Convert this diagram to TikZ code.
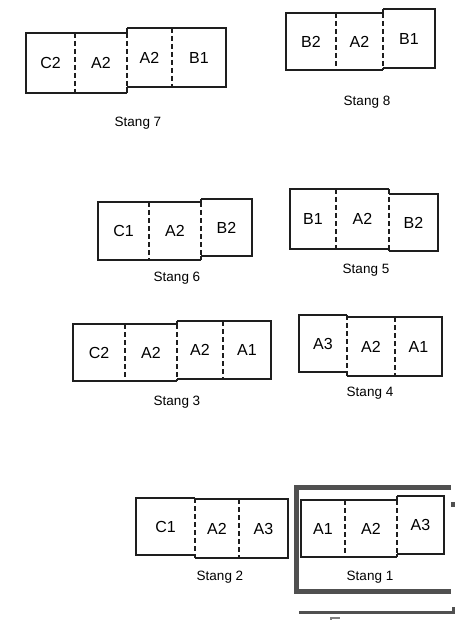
\documentclass[tikz,border=0pt]{standalone}
\usepackage{fontspec}
\setmainfont{Liberation Sans}
\usetikzlibrary{positioning}
\definecolor{stangLine}{HTML}{1E1E1E}
\definecolor{frameGray}{HTML}{505050}

\begin{document}
\begin{tikzpicture}[x=1pt, y=-1pt,
        cell/.style={inner sep=0pt, outer sep=0pt, font=\fontsize{16}{18}\selectfont},
        outline/.style={draw=stangLine, line width=1.1pt},
        divider/.style={draw=stangLine, line width=1.1pt, dash pattern=on 5pt off 3pt},
        caption/.style={font=\fontsize{13.5}{16}\selectfont},
        frame/.style={draw=frameGray, line width=5pt}
    ]
        \useasboundingbox (0,0) rectangle (462,620);

        % Stang 7
        \node[cell, anchor=north west, minimum width=49pt, minimum height=60pt] (s7c2) at (26,33) {C2};
        \node[cell, minimum width=52pt, minimum height=60pt, right=0pt of s7c2] (s7a2) {A2};
        \node[cell, anchor=north west, minimum width=45pt, minimum height=59pt] (s7a2r) at (127,28) {A2};
        \node[cell, minimum width=54pt, minimum height=59pt, right=0pt of s7a2r] (s7b1) {B1};
        \node[caption] (s7) at (138,123) {Stang 7};
        \draw[outline] (s7a2.north east) -| (s7c2.south west) -- (s7a2.south east);
        \draw[outline] (s7a2r.north west) -| (s7b1.south east) -- (s7a2r.south west);
        \draw[outline] (s7a2r.north west) -- (s7a2.north east) (s7a2.south east) -- (s7a2r.south west);
        \draw[divider] (s7c2.north east) -- (s7c2.south east) (s7a2.north east) -- (s7a2.south east) (s7a2r.north east) -- (s7a2r.south east);

        % Stang 8
        \node[cell, anchor=north west, minimum width=50pt, minimum height=57pt] (s8b2) at (286,13) {B2};
        \node[cell, minimum width=47pt, minimum height=57pt, right=0pt of s8b2] (s8a2) {A2};
        \node[cell, anchor=north west, minimum width=52pt, minimum height=59pt] (s8b1) at (383,9) {B1};
        \node[caption] (s8) at (367,102) {Stang 8};
        \draw[outline] (s8a2.north east) -| (s8b2.south west) -- (s8a2.south east);
        \draw[outline] (s8b1.north west) -| (s8b1.south east) -- (s8b1.south west);
        \draw[outline] (s8b1.north west) -- (s8a2.north east) (s8a2.south east) -- (s8b1.south west);
        \draw[divider] (s8b2.north east) -- (s8b2.south east) (s8a2.north east) -- (s8a2.south east);

        % Stang 6
        \node[cell, anchor=north west, minimum width=51pt, minimum height=58pt] (s6c1) at (98,202) {C1};
        \node[cell, minimum width=52pt, minimum height=58pt, right=0pt of s6c1] (s6a2) {A2};
        \node[cell, anchor=north west, minimum width=51pt, minimum height=57pt] (s6b2) at (201,199) {B2};
        \node[caption] (s6) at (177,278) {Stang 6};
        \draw[outline] (s6a2.north east) -| (s6c1.south west) -- (s6a2.south east);
        \draw[outline] (s6b2.north west) -| (s6b2.south east) -- (s6b2.south west);
        \draw[outline] (s6b2.north west) -- (s6a2.north east) (s6a2.south east) -- (s6b2.south west);
        \draw[divider] (s6c1.north east) -- (s6c1.south east) (s6a2.north east) -- (s6a2.south east);

        % Stang 5
        \node[cell, anchor=north west, minimum width=46pt, minimum height=60pt] (s5b1) at (290,189) {B1};
        \node[cell, minimum width=53pt, minimum height=60pt, right=0pt of s5b1] (s5a2) {A2};
        \node[cell, anchor=north west, minimum width=49pt, minimum height=57pt] (s5b2) at (389,194) {B2};
        \node[caption] (s5) at (366,270) {Stang 5};
        \draw[outline] (s5a2.north east) -| (s5b1.south west) -- (s5a2.south east);
        \draw[outline] (s5b2.north west) -| (s5b2.south east) -- (s5b2.south west);
        \draw[outline] (s5b2.north west) -- (s5a2.north east) (s5a2.south east) -- (s5b2.south west);
        \draw[divider] (s5b1.north east) -- (s5b1.south east) (s5a2.north east) -- (s5a2.south east);

        % Stang 3
        \node[cell, anchor=north west, minimum width=52pt, minimum height=57pt] (s3c2) at (73,324) {C2};
        \node[cell, minimum width=52pt, minimum height=57pt, right=0pt of s3c2] (s3a2) {A2};
        \node[cell, anchor=north west, minimum width=46pt, minimum height=58pt] (s3a2r) at (177,321) {A2};
        \node[cell, minimum width=48pt, minimum height=58pt, right=0pt of s3a2r] (s3a1) {A1};
        \node[caption] (s3) at (177,402) {Stang 3};
        \draw[outline] (s3a2.north east) -| (s3c2.south west) -- (s3a2.south east);
        \draw[outline] (s3a2r.north west) -| (s3a1.south east) -- (s3a2r.south west);
        \draw[outline] (s3a2r.north west) -- (s3a2.north east) (s3a2.south east) -- (s3a2r.south west);
        \draw[divider] (s3c2.north east) -- (s3c2.south east) (s3a2.north east) -- (s3a2.south east) (s3a2r.north east) -- (s3a2r.south east);

        % Stang 4
        \node[cell, anchor=north west, minimum width=48pt, minimum height=57pt] (s4a3) at (299,315) {A3};
        \node[cell, anchor=north west, minimum width=48pt, minimum height=59pt] (s4a2) at (347,317) {A2};
        \node[cell, minimum width=47pt, minimum height=59pt, right=0pt of s4a2] (s4a1) {A1};
        \node[caption] (s4) at (370,393) {Stang 4};
        \draw[outline] (s4a3.north east) -| (s4a3.south west) -- (s4a3.south east);
        \draw[outline] (s4a2.north west) -| (s4a1.south east) -- (s4a2.south west);
        \draw[outline] (s4a2.north west) -- (s4a3.north east) (s4a3.south east) -- (s4a2.south west);
        \draw[divider] (s4a3.north east) -- (s4a3.south east) (s4a2.north east) -- (s4a2.south east);

        % Stang 2
        \node[cell, anchor=north west, minimum width=59pt, minimum height=57pt] (s2c1) at (136,498) {C1};
        \node[cell, anchor=north west, minimum width=44pt, minimum height=59pt] (s2a2) at (195,499) {A2};
        \node[cell, minimum width=49pt, minimum height=59pt, right=0pt of s2a2] (s2a3) {A3};
        \node[caption] (s2) at (220,577) {Stang 2};
        \draw[outline] (s2c1.north east) -| (s2c1.south west) -- (s2c1.south east);
        \draw[outline] (s2a2.north west) -| (s2a3.south east) -- (s2a2.south west);
        \draw[outline] (s2a2.north west) -- (s2c1.north east) (s2c1.south east) -- (s2a2.south west);
        \draw[divider] (s2c1.north east) -- (s2c1.south east) (s2a2.north east) -- (s2a2.south east);

        % Stang 1
        \node[cell, anchor=north west, minimum width=44pt, minimum height=57pt] (s1a1) at (301,500) {A1};
        \node[cell, minimum width=52pt, minimum height=57pt, right=0pt of s1a1] (s1a2) {A2};
        \node[cell, anchor=north west, minimum width=47pt, minimum height=58pt] (s1a3) at (397,496) {A3};
        \node[caption] (s1) at (370,577) {Stang 1};
        \draw[outline] (s1a2.north east) -| (s1a1.south west) -- (s1a2.south east);
        \draw[outline] (s1a3.north west) -| (s1a3.south east) -- (s1a3.south west);
        \draw[outline] (s1a3.north west) -- (s1a2.north east) (s1a2.south east) -- (s1a3.south west);
        \draw[divider] (s1a1.north east) -- (s1a1.south east) (s1a2.north east) -- (s1a2.south east);

        % frame round Stang 1
        \draw[frame] (451,487) -- (296.5,487) -- (296.5,591.5) -- (451,591.5);
        \fill[frameGray] (451,502) rectangle (455,507);
        \draw[frameGray, line width=3pt] (299,612.5) -- (453.5,612.5) -- (453.5,607);
        \draw[gray, line width=1.5pt] (331,620) -- (331,618) -- (340,618);
    \end{tikzpicture}
\end{document}
